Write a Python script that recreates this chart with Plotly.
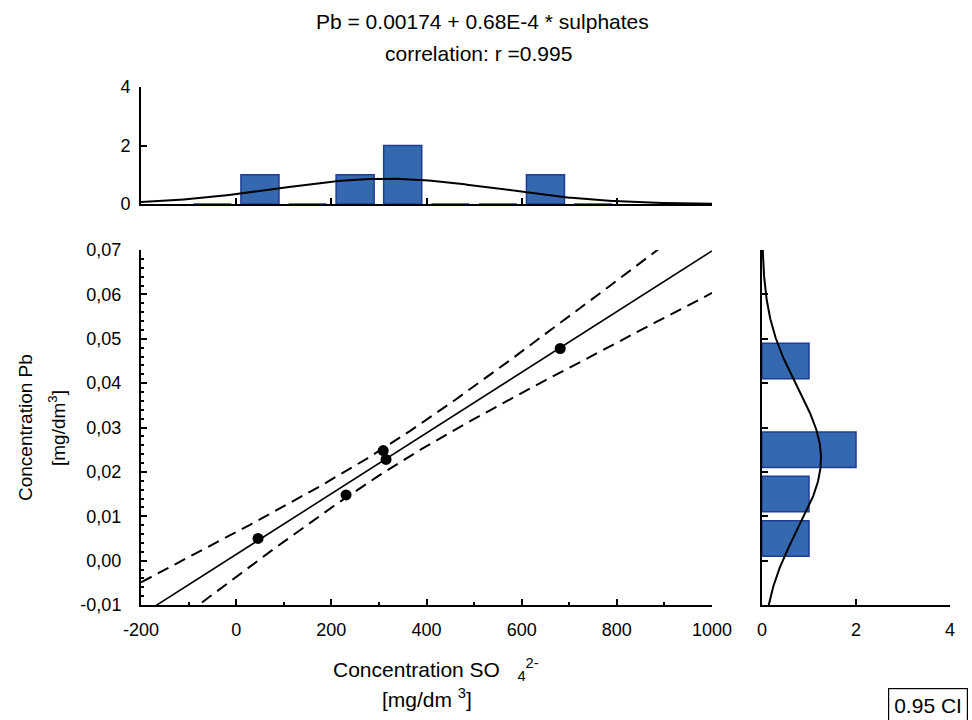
import numpy as np
import plotly.graph_objects as go

# ---------------- data ----------------
sulphates = [46, 231, 309, 315, 681]            # SO4 2- [mg/dm3]
pb = [0.0050, 0.0148, 0.0248, 0.0228, 0.0478]   # Pb [mg/dm3]

top_bin_centers = [-50, 50, 150, 250, 350, 450, 550, 650, 750]
top_counts = [0, 1, 0, 1, 2, 0, 0, 1, 0]
top_bin_width = 100

right_bin_centers = [0.005, 0.015, 0.025, 0.035, 0.045]
right_counts = [1, 1, 2, 0, 1]
right_bin_width = 0.01

x_tickvals = [-200, 0, 200, 400, 600, 800, 1000]
x_ticktext = ["-200", "0", "200", "400", "600", "800", "1000"]
y_tickvals = [-0.01, 0.0, 0.01, 0.02, 0.03, 0.04, 0.05, 0.06, 0.07]
y_ticktext = ["-0,01", "0,00", "0,01", "0,02", "0,03", "0,04", "0,05", "0,06", "0,07"]
hist_tickvals = [0, 2, 4]
hist_ticktext = ["0", "2", "4"]

title1 = "Pb = 0.00174 + 0.68E-4 * sulphates"
title2 = "correlation: r =0.995"
T_975_DF3 = 3.182  # Student t quantile for 95% CI, n-2 = 3 dof

# ---------------- derived fits ----------------
xs = np.array(sulphates, float)
ys = np.array(pb, float)
n = len(xs)
slope, intercept = np.polyfit(xs, ys, 1)
resid = ys - (intercept + slope * xs)
s = np.sqrt(np.sum(resid ** 2) / (n - 2))
sxx = np.sum((xs - xs.mean()) ** 2)

xg = np.linspace(-200, 1000, 241)
fit = intercept + slope * xg
half = T_975_DF3 * s * np.sqrt(1.0 / n + (xg - xs.mean()) ** 2 / sxx)

def normal_curve(grid, data, bw):
    m = np.mean(data)
    sd = np.std(data, ddof=1)
    return len(data) * bw * np.exp(-0.5 * ((grid - m) / sd) ** 2) / (sd * np.sqrt(2 * np.pi))

top_curve = normal_curve(xg, xs, top_bin_width)
yg = np.linspace(-0.01, 0.07, 241)
right_curve = normal_curve(yg, ys, right_bin_width)

# ---------------- figure ----------------
FONT = "Liberation Sans, Arial, sans-serif"
BAR_FILL = "#3468AF"
BAR_LINE = "#1F3C96"

fig = go.Figure()

# main plot
fig.add_trace(go.Scatter(x=xg, y=fit, mode="lines", line=dict(color="black", width=1.6),
                         xaxis="x", yaxis="y", showlegend=False))
fig.add_trace(go.Scatter(x=xg, y=fit + half, mode="lines",
                         line=dict(color="black", width=2, dash="12px,7px"),
                         xaxis="x", yaxis="y", showlegend=False))
fig.add_trace(go.Scatter(x=xg, y=fit - half, mode="lines",
                         line=dict(color="black", width=2, dash="12px,7px"),
                         xaxis="x", yaxis="y", showlegend=False))
fig.add_trace(go.Scatter(x=sulphates, y=pb, mode="markers",
                         marker=dict(color="black", size=11),
                         xaxis="x", yaxis="y", showlegend=False))

# top histogram
fig.add_trace(go.Bar(x=top_bin_centers, y=top_counts, width=top_bin_width * 0.8,
                     marker=dict(color=BAR_FILL, line=dict(color=BAR_LINE, width=1.5)),
                     xaxis="x2", yaxis="y2", showlegend=False))
fig.add_trace(go.Scatter(x=xg, y=top_curve, mode="lines", line=dict(color="black", width=2),
                         xaxis="x2", yaxis="y2", showlegend=False))

# right histogram (empty bins are not drawn in the reference)
rb = [(c, k) for c, k in zip(right_bin_centers, right_counts) if k > 0]
fig.add_trace(go.Bar(y=[c for c, _ in rb], x=[k for _, k in rb], orientation="h",
                     width=right_bin_width * 0.8,
                     marker=dict(color=BAR_FILL, line=dict(color=BAR_LINE, width=1.5)),
                     xaxis="x3", yaxis="y3", showlegend=False))
fig.add_trace(go.Scatter(x=right_curve, y=yg, mode="lines", line=dict(color="black", width=2),
                         xaxis="x3", yaxis="y3", showlegend=False))

W, H = 972, 720
def fx(px):
    return px / W
def fy(py):
    return (H - py) / H

main_x = [fx(141), fx(712)]
main_y = [fy(605), fy(250)]
top_y = [fy(204), fy(87)]
right_x = [fx(762), fx(950)]

axis_common = dict(showline=True, linecolor="black", linewidth=2, ticks="inside",
                   tickcolor="black", tickwidth=2, ticklen=6, showgrid=False,
                   zeroline=False, automargin=False,
                   tickfont=dict(family=FONT, size=18, color="black"),
                   fixedrange=True)
minor_common = dict(ticks="inside", ticklen=3, tickwidth=2, tickcolor="black")

fig.update_layout(
    template="none",
    width=W, height=H, autosize=False,
    margin=dict(l=0, r=0, t=0, b=0, pad=0),
    paper_bgcolor="white", plot_bgcolor="white",
    font=dict(family=FONT, size=18, color="black"),
    bargap=0.2,
    xaxis=dict(domain=main_x, range=[-200, 1000], anchor="y",
               tickmode="array", tickvals=x_tickvals, ticktext=x_ticktext,
               minor=dict(dtick=100, tick0=0, **minor_common),
               ticklabelstandoff=7, **axis_common),
    yaxis=dict(domain=main_y, range=[-0.01, 0.07], anchor="x",
               tickmode="array", tickvals=y_tickvals, ticktext=y_ticktext,
               minor=dict(dtick=0.002, tick0=0, **minor_common),
               ticklabelstandoff=14, **axis_common),
    xaxis2=dict(domain=main_x, range=[-200, 1000], anchor="y2",
                tickmode="array", tickvals=x_tickvals[1:], showticklabels=False,
                **axis_common),
    yaxis2=dict(domain=top_y, range=[0, 4], anchor="x2",
                tickmode="array", tickvals=hist_tickvals, ticktext=hist_ticktext,
                ticklabelstandoff=5, **axis_common),
    xaxis3=dict(domain=right_x, range=[0, 4], anchor="y3",
                tickmode="array", tickvals=hist_tickvals, ticktext=hist_ticktext,
                ticklabelstandoff=7, **axis_common),
    yaxis3=dict(domain=main_y, range=[-0.01, 0.07], anchor="x3",
                tickmode="array", tickvals=y_tickvals, showticklabels=False,
                **axis_common),
)

def note(text, px, py, size, **kw):
    return dict(text=text, x=fx(px), y=fy(py), xref="paper", yref="paper",
                xanchor="center", yanchor="middle", showarrow=False,
                font=dict(family=FONT, size=size, color="black"), **kw)

ann = [
    note(title1, 482, 21, 21),
    note(title2, 478, 54, 21),
    note("Concentration SO&nbsp;&nbsp;&nbsp;<sub>4</sub><sup>2-</sup>", 436, 669, 21),
    note("[mg/dm <sup>3</sup>]", 427, 698, 21),
    note("Concentration Pb", 25, 428, 19, textangle=-90),
    note("[mg/dm<sup>3</sup>]", 57, 428, 19, textangle=-90),
    note("0.95 CI", 928, 705, 21, bordercolor="black", borderwidth=1.2,
         borderpad=5, bgcolor="white"),
]
fig.update_layout(annotations=ann)

fig.write_html("out.html")
